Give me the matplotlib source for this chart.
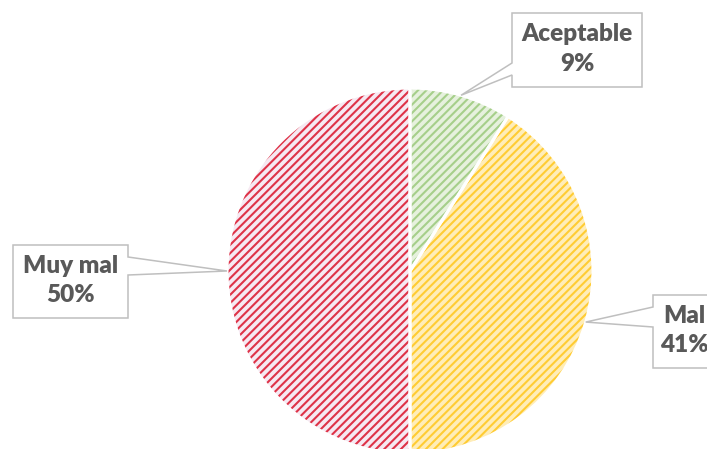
import matplotlib
matplotlib.use("Agg")
import matplotlib.pyplot as plt
import numpy as np
from matplotlib.patches import Polygon

plt.rcParams["font.family"] = ["Lato", "DejaVu Sans"]
plt.rcParams["hatch.linewidth"] = 1.5

categorias = ["Aceptable", "Mal", "Muy mal"]
valores = [9, 41, 50]
etiquetas = ["9%", "41%", "50%"]

fondo = ["#E6F1DD", "#FFEDB8", "#F6E9F2"]
rayas = ["#A6CF8A", "#FFCC33", "#DE3348"]

W, H = 707, 449
CX, CY, R = 410, H - 271, 183

# cajas de etiqueta en pixeles de imagen: x0, arriba, x1, abajo, lado del puntero, base del puntero
cajas = {
    "Aceptable": (512, 13, 642, 87, "left", (63, 75)),
    "Mal": (653, 295, 716, 368, "left", (307, 327)),
    "Muy mal": (13, 245, 128, 318, "right", (257, 275)),
}


def callout(x0, top, x1, bot, lado, base, tip):
    t, b = H - top, H - bot
    b0, b1 = H - base[0], H - base[1]
    if lado == "left":
        pts = [(x0, t), (x1, t), (x1, b), (x0, b), (x0, b1), tip, (x0, b0)]
    else:
        pts = [(x0, t), (x1, t), (x1, b0), tip, (x1, b1), (x1, b), (x0, b)]
    return pts


fig = plt.figure(figsize=(W / 100, H / 100), dpi=100)
ax = fig.add_axes([0, 0, 1, 1])

wedges, _ = ax.pie(valores, colors=fondo, startangle=90, counterclock=False,
                   center=(CX, CY), radius=R,
                   wedgeprops=dict(linewidth=0))
for w, c in zip(wedges, rayas):
    w.set_edgecolor(c)
    w.set_hatch("////")
    w.set_linewidth(0)

# bordes blancos entre sectores
ax.pie(valores, colors=["none"] * 3, startangle=90, counterclock=False,
       center=(CX, CY), radius=R,
       wedgeprops=dict(linewidth=2.2, edgecolor="white"))

total = sum(valores)
ang = 90.0
for cat, v, et in zip(categorias, valores, etiquetas):
    span = 360.0 * v / total
    mid = np.deg2rad(ang - span / 2)
    ang -= span
    tip = (CX + R * np.cos(mid), CY + R * np.sin(mid))
    x0, top, x1, bot, lado, base = cajas[cat]
    poly = Polygon(callout(x0, top, x1, bot, lado, base, tip), closed=True,
                   facecolor="white", edgecolor="#BFBFBF", linewidth=1.1, zorder=5)
    ax.add_patch(poly)
    ax.text((x0 + x1) / 2, H - (top + bot) / 2 + 1, f"{cat}\n{et}", ha="center", va="center",
            fontsize=17.5, fontweight="heavy", color="#595959", linespacing=1.4, zorder=6)

ax.set_xlim(0, W)
ax.set_ylim(0, H)
ax.axis("off")
fig.savefig("out.png", dpi=100)
